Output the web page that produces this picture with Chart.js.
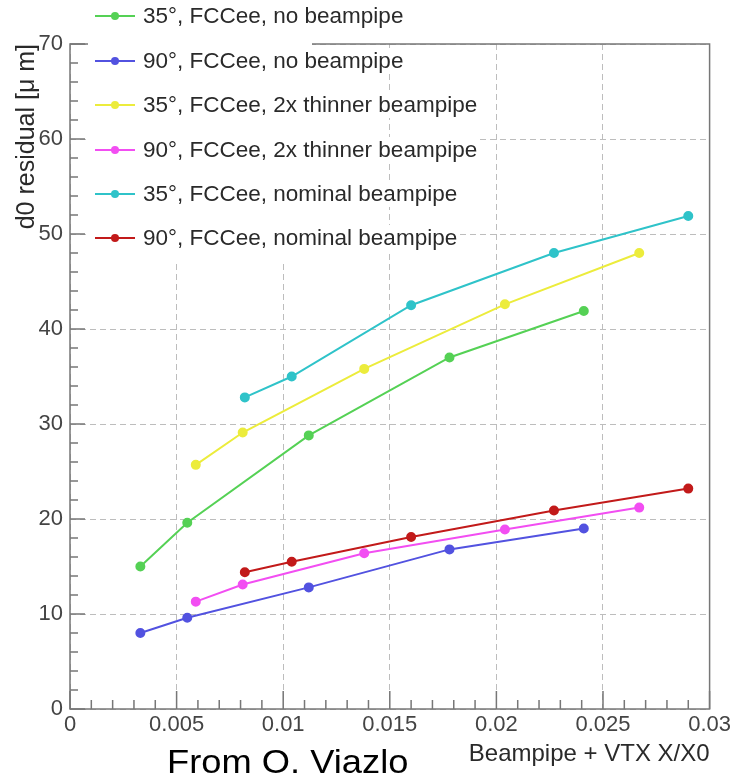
<!DOCTYPE html>
<html lang="en">
<head>
<meta charset="UTF-8" />
<title>d0 residual vs material budget</title>
<style>
  body{margin:0;background:#fff;font-family:"Liberation Sans", Arial, sans-serif;}
  #wrap{position:relative;width:734px;height:779px;}
  #legendBox{position:absolute;left:88px;top:0;width:224px;height:262px;background:#fff;}
  .leg{position:absolute;left:95px;height:26px;display:flex;align-items:center;}
  .leg .sym{position:relative;width:40px;height:26px;}
  .leg .sym i{position:absolute;left:0;top:12px;width:40px;height:2px;}
  .leg .sym b{position:absolute;left:16px;top:9px;width:8px;height:8px;border-radius:50%;}
  .leg span{margin-left:8px;font-size:22.5px;color:#2a2a2a;background:#fff;line-height:26px;}
  #credit{position:absolute;left:167px;top:743px;font-size:33px;color:#000;transform:scaleX(1.1);transform-origin:left top;}
</style>
<script src="https://cdn.jsdelivr.net/npm/chart.js@4.4.0/dist/chart.umd.min.js"></script>
</head>
<body>
<div id="wrap">
  <canvas id="c"></canvas>
  <div id="legendBox"></div>
  <div id="legend"></div>
  <div id="credit">From O. Viazlo</div>
</div>

<script>
// ---- data ----
const xNoPipe   = [0.0033, 0.0055, 0.0112, 0.0178, 0.0241];
const xThin     = [0.0059, 0.0081, 0.0138, 0.0204, 0.0267];
const xNominal  = [0.0082, 0.0104, 0.0160, 0.0227, 0.0290];

const y35NoPipe  = [15.0, 19.6, 28.8, 37.0, 41.9];
const y90NoPipe  = [8.0, 9.6, 12.8, 16.8, 19.0];
const y35Thin    = [25.7, 29.1, 35.8, 42.6, 48.0];
const y90Thin    = [11.3, 13.1, 16.4, 18.9, 21.2];
const y35Nominal = [32.8, 35.0, 42.5, 48.0, 51.9];
const y90Nominal = [14.4, 15.5, 18.1, 20.9, 23.2];

const labels = [
  '35\u00b0, FCCee, no beampipe',
  '90\u00b0, FCCee, no beampipe',
  '35\u00b0, FCCee, 2x thinner beampipe',
  '90\u00b0, FCCee, 2x thinner beampipe',
  '35\u00b0, FCCee, nominal beampipe',
  '90\u00b0, FCCee, nominal beampipe'
];
const colors = ['#55d155', '#5252e0', '#ecec3c', '#f24ef2', '#2fc3c9', '#c21a1a'];

const xTicks = [0, 0.005, 0.01, 0.015, 0.02, 0.025, 0.03];
const yTicks = [0, 10, 20, 30, 40, 50, 60, 70];

const series = [
  [xNoPipe, y35NoPipe], [xNoPipe, y90NoPipe],
  [xThin, y35Thin], [xThin, y90Thin],
  [xNominal, y35Nominal], [xNominal, y90Nominal]
];

// frame + inward ticks like ROOT
const frameTicks = {
  id: 'frameTicks',
  beforeDatasetsDraw(chart) {
    const {ctx, chartArea: a, scales: {x, y}} = chart;
    ctx.save();
    ctx.strokeStyle = '#777';
    ctx.lineWidth = 1.5;
    ctx.setLineDash([]);
    ctx.strokeRect(a.left, a.top, a.right - a.left, a.bottom - a.top);
    ctx.beginPath();
    for (let i = 0; i <= 30; i++) {
      const px = x.getPixelForValue(i * 0.001);
      const len = i % 5 === 0 ? 18 : 9;
      ctx.moveTo(px, a.bottom); ctx.lineTo(px, a.bottom - len);
    }
    for (let i = 0; i <= 35; i++) {
      const py = y.getPixelForValue(i * 2);
      const len = i % 5 === 0 ? 15 : 8;
      ctx.moveTo(a.left, py); ctx.lineTo(a.left + len, py);
    }
    ctx.stroke();
    ctx.restore();
  }
};

const chart = new Chart(document.getElementById('c'), {
  type: 'scatter',
  data: {
    datasets: series.map((s, i) => ({
      label: labels[i],
      data: s[0].map((xv, k) => ({x: xv, y: s[1][k]})),
      showLine: true,
      borderColor: colors[i],
      backgroundColor: colors[i],
      borderWidth: 2,
      pointRadius: 4,
      pointHoverRadius: 4
    }))
  },
  options: {
    responsive: true,
    maintainAspectRatio: false,
    animation: false,
    layout: {padding: {left: 0, top: 44, right: 22, bottom: 0}},
    plugins: {legend: {display: false}, tooltip: {enabled: false}},
    scales: {
      x: {
        type: 'linear', min: 0, max: 0.03,
        afterBuildTicks: s => { s.ticks = xTicks.map(v => ({value: v})); },
        afterFit: s => { s.height = 70; },
        grid: {color: '#bdbdbd', lineWidth: 1, drawTicks: false},
        border: {display: false, dash: [6, 4]},
        ticks: {padding: 3, color: '#444', font: {family: 'Liberation Sans', size: 22},
                maxRotation: 0, callback: v => String(+v.toFixed(3))},
        title: {display: true, text: 'Beampipe + VTX X/X0', align: 'end', color: '#2a2a2a',
                font: {family: 'Liberation Sans', size: 24}, padding: {top: 0, bottom: 10}}
      },
      y: {
        type: 'linear', min: 0, max: 70,
        afterBuildTicks: s => { s.ticks = yTicks.map(v => ({value: v})); },
        afterFit: s => { s.width = 70; },
        grid: {color: '#bdbdbd', lineWidth: 1, drawTicks: false},
        border: {display: false, dash: [6, 4]},
        ticks: {padding: 7, color: '#444', font: {family: 'Liberation Sans', size: 22}},
        title: {display: true, text: 'd0 residual [\u03bc m]', align: 'end', color: '#2a2a2a',
                font: {family: 'Liberation Sans', size: 25}, padding: {top: 12, bottom: 0}}
      }
    }
  },
  plugins: [frameTicks]
});

// legend overlay built from the datasets
const legendEl = document.getElementById('legend');
const rowY = [16, 61, 105, 150, 194, 238];
chart.data.datasets.forEach((ds, i) => {
  const row = document.createElement('div');
  row.className = 'leg';
  row.style.top = (rowY[i] - 13) + 'px';
  row.innerHTML = '<div class="sym"><i style="background:' + ds.borderColor + '"></i><b style="background:' +
    ds.borderColor + '"></b></div><span>' + ds.label + '</span>';
  legendEl.appendChild(row);
});
</script>
</body>
</html>
